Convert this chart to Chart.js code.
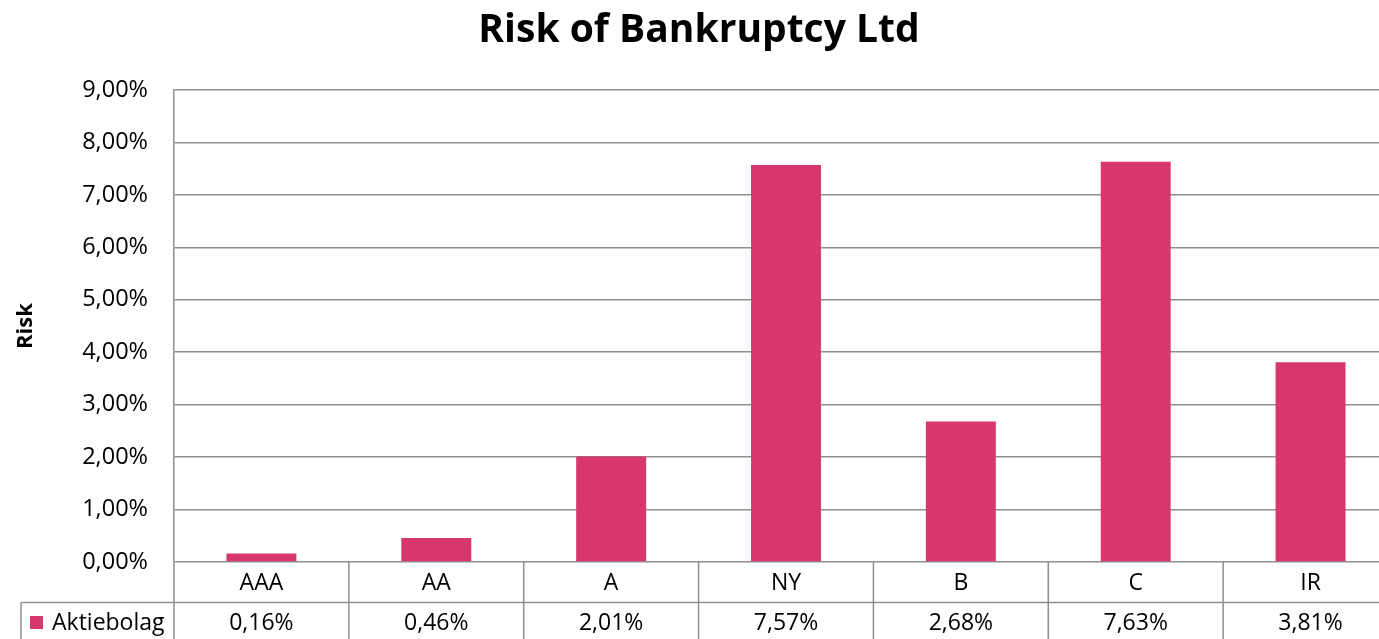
<!DOCTYPE html>
<html>
<head>
<meta charset="utf-8">
<script src="https://cdn.jsdelivr.net/npm/chart.js@4"></script>
<style>
    body { margin: 0; background: #fff; }
    #wrap { width: 1379px; height: 639px; overflow: hidden; }
</style>
</head>
<body>
<div id="wrap"><canvas id="riskChart" width="1399" height="639"></canvas></div>
<script>
const categories = ['AAA', 'AA', 'A', 'NY', 'B', 'C', 'IR'];
const riskValues = [0.16, 0.46, 2.01, 7.57, 2.68, 7.63, 3.81];
const seriesName = 'Aktiebolag';

const barColor = '#D7376A';
const gridColor = '#8f8f8f';
const fontFamily = '"Open Sans", "Liberation Sans", sans-serif';

function pct(v) {
    return v.toFixed(2).replace('.', ',') + '%';
}

// data table under the plot, columns taken from the x scale
const dataTable = {
    id: 'dataTable',
    afterDraw(chart) {
        const ctx = chart.ctx;
        const area = chart.chartArea;
        const xs = chart.scales.x;
        const colW = (area.right - area.left) / categories.length;
        const top = area.bottom;
        const mid = 602.5;
        const bottom = chart.height;

        ctx.save();
        ctx.strokeStyle = gridColor;
        ctx.lineWidth = 1.5;
        ctx.beginPath();
        for (let i = 0; i <= categories.length; i++) {
            const x = area.left + i * colW;
            ctx.moveTo(x, top);
            ctx.lineTo(x, bottom);
        }
        ctx.moveTo(21, mid);
        ctx.lineTo(area.right, mid);
        ctx.moveTo(21, mid);
        ctx.lineTo(21, bottom);
        ctx.stroke();

        ctx.fillStyle = '#000';
        ctx.font = '23px ' + fontFamily;
        ctx.textAlign = 'center';
        ctx.textBaseline = 'middle';
        categories.forEach((c, i) => {
            const x = xs.getPixelForValue(i);
            ctx.fillText(c, x, 583);
            ctx.fillText(pct(riskValues[i]), x, 623);
        });

        ctx.fillStyle = barColor;
        ctx.fillRect(30, 616, 13, 13);
        ctx.fillStyle = '#000';
        ctx.textAlign = 'left';
        ctx.fillText(seriesName, 52, 623);
        ctx.restore();
    }
};

new Chart(document.getElementById('riskChart'), {
    type: 'bar',
    data: {
        labels: categories,
        datasets: [{
            label: seriesName,
            data: riskValues,
            backgroundColor: barColor,
            barPercentage: 0.8,
            categoryPercentage: 0.5
        }]
    },
    options: {
        responsive: false,
        animation: false,
        layout: { padding: { left: 0, right: 1, top: 0, bottom: 77 } },
        scales: {
            x: {
                display: false
            },
            y: {
                min: 0,
                max: 9,
                afterFit(scale) { scale.width = 174; },
                ticks: {
                    stepSize: 1,
                    padding: 26,
                    color: '#000',
                    font: { family: fontFamily, size: 23.5 },
                    callback: v => pct(v)
                },
                grid: { color: gridColor, lineWidth: 1.5, drawTicks: false },
                border: { color: gridColor, width: 1.5 },
                title: {
                    display: true,
                    text: 'Risk',
                    color: '#000',
                    font: { family: fontFamily, size: 22, weight: 'bold' },
                    padding: { top: 13, bottom: 0 }
                }
            }
        },
        plugins: {
            legend: { display: false },
            tooltip: { enabled: false },
            title: {
                display: true,
                text: 'Risk of Bankruptcy Ltd',
                color: '#000',
                font: { family: fontFamily, size: 39, weight: 'bold' },
                padding: { top: 7, bottom: 36.2 }
            }
        }
    },
    plugins: [dataTable]
});
</script>
</body>
</html>
